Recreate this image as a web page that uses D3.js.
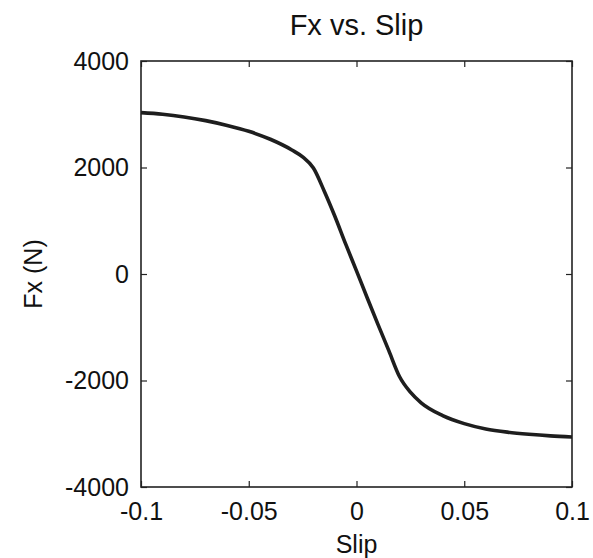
<!DOCTYPE html>
<html>
<head>
<meta charset="utf-8">
<script src="https://cdn.jsdelivr.net/npm/d3@7"></script>
<style>
  body { margin: 0; background: #fff; }
  svg text { font-family: "Liberation Sans", Arial, sans-serif; fill: #111; }
</style>
</head>
<body>
<svg id="chart" width="593" height="558"></svg>
<script>
// data
const slip = [-0.100, -0.090, -0.080, -0.070, -0.060, -0.050, -0.040, -0.030, -0.025, -0.020,
  -0.015, -0.010, -0.005, 0.000, 0.005, 0.010, 0.015, 0.020, 0.025, 0.030,
  0.040, 0.050, 0.060, 0.070, 0.080, 0.090, 0.100];
const fx = [3030, 3000, 2950, 2880, 2790, 2680, 2530, 2330, 2200, 1990,
  1560, 1080, 560, 60, -450, -950, -1440, -1930, -2220, -2420,
  -2660, -2810, -2910, -2970, -3010, -3040, -3060];
const xTicks = [-0.1, -0.05, 0, 0.05, 0.1];
const xTickLabels = ["-0.1", "-0.05", "0", "0.05", "0.1"];
const yTicks = [-4000, -2000, 0, 2000, 4000];
const yTickLabels = ["-4000", "-2000", "0", "2000", "4000"];

const svg = d3.select("#chart");
const margin = { left: 141, right: 21, top: 61, bottom: 71 };
const width = +svg.attr("width");
const height = +svg.attr("height");

const x = d3.scaleLinear().domain([-0.1, 0.1]).range([margin.left, width - margin.right]);
const y = d3.scaleLinear().domain([-4000, 4000]).range([height - margin.bottom, margin.top]);

// ticks on all four sides, pointing inwards
const tickLen = 6;
const axisStyle = g => {
  g.select(".domain").remove();
  g.selectAll("line").attr("stroke", "#222").attr("stroke-width", 1.2);
};

svg.append("g")
  .attr("transform", "translate(0," + y.range()[0] + ")")
  .call(d3.axisBottom(x).tickValues(xTicks).tickSizeInner(-tickLen).tickSizeOuter(0)
    .tickFormat((d, i) => xTickLabels[i]).tickPadding(15))
  .call(axisStyle)
  .selectAll("text").attr("font-size", 25).attr("dy", "0.71em");

svg.append("g")
  .attr("transform", "translate(0," + y.range()[1] + ")")
  .call(d3.axisTop(x).tickValues(xTicks).tickSizeInner(-tickLen).tickSizeOuter(0).tickFormat(""))
  .call(axisStyle);

svg.append("g")
  .attr("transform", "translate(" + x.range()[0] + ",0)")
  .call(d3.axisLeft(y).tickValues(yTicks).tickSizeInner(-tickLen).tickSizeOuter(0)
    .tickFormat((d, i) => yTickLabels[i]).tickPadding(12))
  .call(axisStyle)
  .selectAll("text").attr("font-size", 25);

svg.append("g")
  .attr("transform", "translate(" + x.range()[1] + ",0)")
  .call(d3.axisRight(y).tickValues(yTicks).tickSizeInner(-tickLen).tickSizeOuter(0).tickFormat(""))
  .call(axisStyle);

// box
svg.append("rect")
  .attr("x", x.range()[0])
  .attr("y", y.range()[1])
  .attr("width", x.range()[1] - x.range()[0])
  .attr("height", y.range()[0] - y.range()[1])
  .attr("fill", "none")
  .attr("stroke", "#222")
  .attr("stroke-width", 1.6);

// curve
const line = d3.line()
  .x((d, i) => x(slip[i]))
  .y(d => y(d))
  .curve(d3.curveMonotoneX);

svg.append("path")
  .datum(fx)
  .attr("fill", "none")
  .attr("stroke", "#1e1e1e")
  .attr("stroke-width", 3.6)
  .attr("stroke-linejoin", "round")
  .attr("d", line);

// title and labels
svg.append("text")
  .attr("x", (x.range()[0] + x.range()[1]) / 2)
  .attr("y", 35)
  .attr("text-anchor", "middle")
  .attr("font-size", 29)
  .text("Fx vs. Slip");

svg.append("text")
  .attr("x", (x.range()[0] + x.range()[1]) / 2)
  .attr("y", 553)
  .attr("text-anchor", "middle")
  .attr("font-size", 25)
  .text("Slip");

svg.append("text")
  .attr("transform", "translate(42," + y(0) + ") rotate(-90)")
  .attr("text-anchor", "middle")
  .attr("font-size", 25)
  .text("Fx (N)");
</script>
</body>
</html>
